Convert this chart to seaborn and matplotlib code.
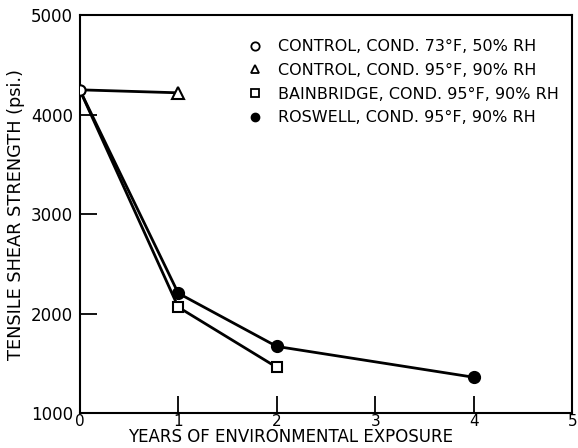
"""Tensile shear strength vs years of environmental exposure."""

import matplotlib

matplotlib.use("Agg")
import matplotlib.pyplot as plt
import pandas as pd
import seaborn as sns
from matplotlib.lines import Line2D

sns.set_theme(style="ticks")
plt.rcParams["font.family"] = ["DejaVu Sans"]

# Values
labels = [
    "CONTROL, COND. 73°F, 50% RH",
    "CONTROL, COND. 95°F, 90% RH",
    "BAINBRIDGE, COND. 95°F, 90% RH",
    "ROSWELL, COND. 95°F, 90% RH",
]
control73_years = [0]
control73_psi = [4250]
control95_years = [0, 1]
control95_psi = [4250, 4220]
bainbridge_years = [0, 1, 2]
bainbridge_psi = [4250, 2065, 1460]
roswell_years = [0, 1, 2, 4]
roswell_psi = [4250, 2205, 1670, 1360]

x_ticks = [0, 1, 2, 3, 4, 5]
y_ticks = [1000, 2000, 3000, 4000, 5000]

series = [
    (labels[1], control95_years, control95_psi, "^", "white"),
    (labels[2], bainbridge_years, bainbridge_psi, "s", "white"),
    (labels[3], roswell_years, roswell_psi, "o", "black"),
]

fig = plt.figure(figsize=(5.78, 4.48), dpi=100)
ax = fig.add_axes([0.138, 0.078, 0.852, 0.888])

for name, xs, ys, mk, fc in series:
    d = pd.DataFrame({"years": xs, "psi": ys})
    sns.lineplot(
        data=d, x="years", y="psi", ax=ax, color="black", linewidth=2.0,
        marker=mk, markersize=8 if mk != "s" else 7, markerfacecolor=fc,
        markeredgecolor="black", markeredgewidth=1.5,
        markevery=slice(1, None), zorder=2,
    )

# control at 73F sits on top of the shared starting point
d0 = pd.DataFrame({"years": control73_years, "psi": control73_psi})
sns.scatterplot(data=d0, x="years", y="psi", ax=ax, marker="o", s=55,
                facecolor="white", edgecolor="black", linewidth=1.5, zorder=5)

ax.set_xlim(0, 5)
ax.set_ylim(1000, 5000)
ax.set_xticks(x_ticks)
ax.set_yticks(y_ticks)
ax.tick_params(direction="in", length=12, width=1.3, colors="black")
ax.tick_params(axis="y", labelsize=12, pad=5)
ax.tick_params(axis="x", labelsize=11, pad=1)
for s in ax.spines.values():
    s.set_linewidth(1.5)
    s.set_color("black")

ax.set_xlabel("YEARS OF ENVIRONMENTAL EXPOSURE", fontsize=12, color="black")
ax.xaxis.set_label_coords(0.427, -0.038)
ax.set_ylabel("TENSILE SHEAR STRENGTH (psi.)", fontsize=12.8, labelpad=4, color="black")

handles = [
    Line2D([], [], linestyle="none", marker="o", markersize=6, mfc="white", mec="black", mew=1.3),
    Line2D([], [], linestyle="none", marker="^", markersize=6, mfc="white", mec="black", mew=1.3),
    Line2D([], [], linestyle="none", marker="s", markersize=5.5, mfc="white", mec="black", mew=1.3),
    Line2D([], [], linestyle="none", marker="o", markersize=6, mfc="black", mec="black"),
]
leg = ax.legend(handles, labels, loc="upper left", bbox_to_anchor=(0.34, 0.94), frameon=False,
                fontsize=11.5, handlelength=1.0, handletextpad=0.9, labelspacing=0.55,
                borderpad=0, borderaxespad=0)
for t in leg.get_texts():
    t.set_color("black")

fig.savefig("out.png", dpi=100)
